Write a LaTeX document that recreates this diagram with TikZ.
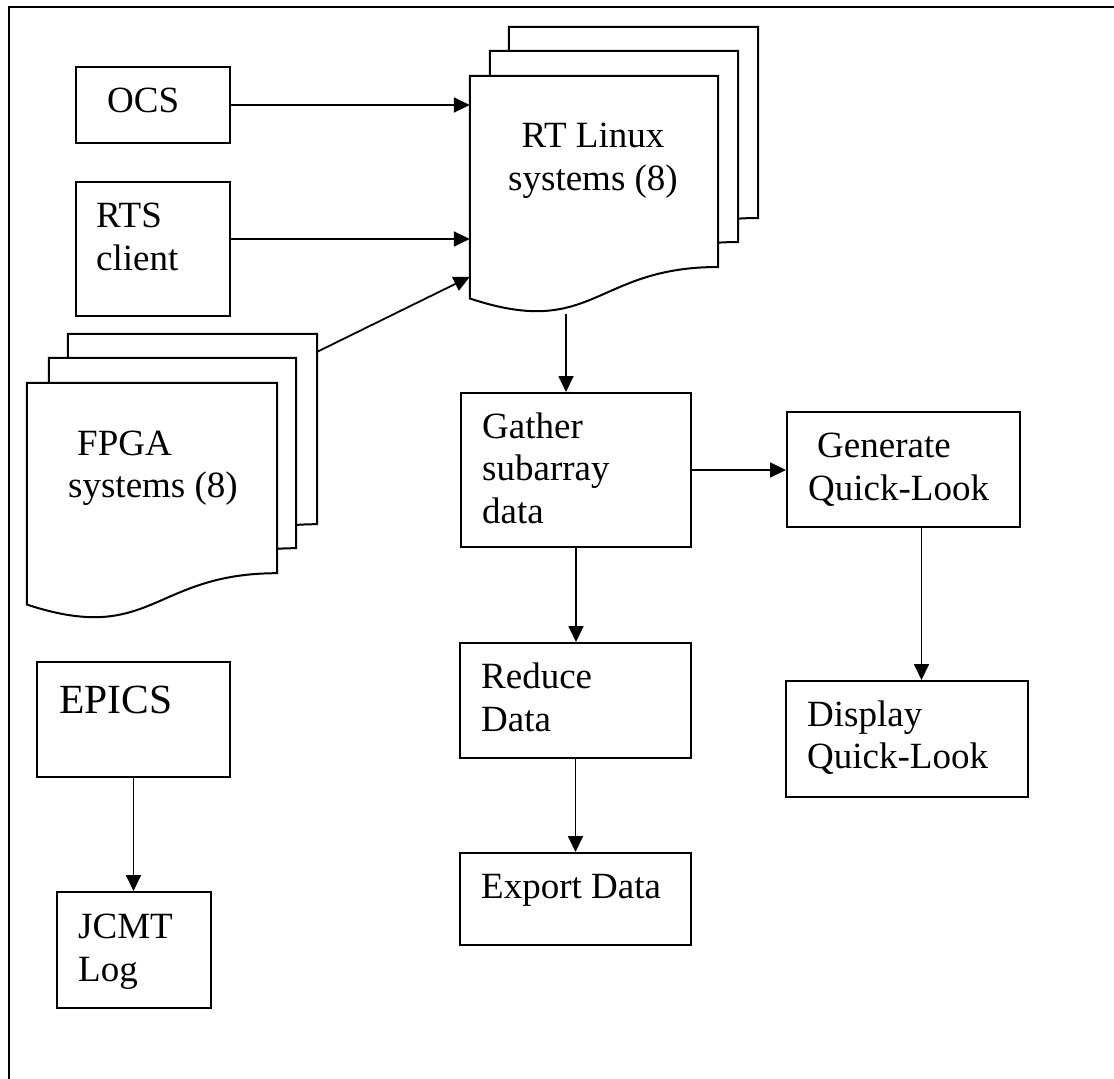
\documentclass[tikz,border=0pt]{standalone}
\usepackage{fontspec}
\setmainfont{Liberation Serif}
\usetikzlibrary{arrows.meta,fit,calc}
\tikzset{
  x=1pt, y=-1pt,
  box/.style={draw, line width=2pt, fill=white, inner sep=0pt},
  pagebox/.style={inner sep=0pt},
  lbl/.style={font=\fontsize{37pt}{42pt}\selectfont, inner sep=0pt, anchor=base west},
  biglbl/.style={font=\fontsize{41.5pt}{48pt}\selectfont, inner sep=0pt, anchor=base west},
  arr/.style={line width=1.8pt, -{Triangle[length=16pt,width=15pt]}},
  docline/.style={line width=2pt, fill=white},
}
\newcommand{\docshape}[1]{%
  \draw[docline] (#1.north west) -- (#1.north east)
    -- ($(#1.north east)!0.802!(#1.south east)$)
    .. controls ($(#1.north)!0.802!(#1.south)$) and ($(#1.north)!1.1075!(#1.south)$)
    .. ($(#1.north west)!0.934!(#1.south west)$) -- cycle;}
\begin{document}
\begin{tikzpicture}
\useasboundingbox (0,0) rectangle (1114,1079);
% outer frame
\draw[line width=2pt] (9,1100) -- (9,7) -- (1130,7);

% RT Linux stack
\node[pagebox, fit={(509,27) (758,265)}] (rt3) {};
\node[pagebox, fit={(490,51) (738,289)}] (rt2) {};
\node[pagebox, fit={(470,76) (718,314)}] (rt1) {};
\docshape{rt3}\docshape{rt2}\docshape{rt1}
\node[lbl, anchor=base] (rtA) at (593,147) {RT Linux};
\node[lbl, anchor=base] (rtB) at (593,190) {systems (8)};

% FPGA stack
\node[pagebox, fit={(68,334) (317,571)}] (fp3) {};
\node[pagebox, fit={(49,358) (296,595)}] (fp2) {};
\node[pagebox, fit={(27,383) (277,620)}] (fp1) {};
\docshape{fp3}\docshape{fp2}\docshape{fp1}
\node[lbl] (fpA) at (77,455) {FPGA};
\node[lbl] (fpB) at (68,497) {systems (8)};

% boxes
\node[box, fit={(76,67) (230,143)}] (ocs) {};
\node[lbl] (ocsT) at (107,112) {OCS};
\node[box, fit={(76,182) (230,316)}] (rts) {};
\node[lbl] (rtsA) at (96,227) {RTS};
\node[lbl] (rtsB) at (96,270) {client};

\node[box, fit={(461,393) (691,547)}] (gather) {};
\node[lbl] (gA) at (482,438) {Gather};
\node[lbl] (gB) at (482,480) {subarray};
\node[lbl] (gC) at (482,523) {data};

\node[box, fit={(787,412) (1020,527)}] (gen) {};
\node[lbl] (genA) at (817,457) {Generate};
\node[lbl] (genB) at (808,500) {Quick-Look};

\node[box, fit={(460,643) (691,758)}] (red) {};
\node[lbl] (redA) at (481,688) {Reduce};
\node[lbl] (redB) at (481,731) {Data};

\node[box, fit={(460,853) (691,945)}] (exp) {};
\node[lbl] (expA) at (481,898) {Export Data};

\node[box, fit={(786,681) (1028,797)}] (disp) {};
\node[lbl] (dispA) at (807,726) {Display};
\node[lbl] (dispB) at (807,768) {Quick-Look};

\node[box, fit={(37,662) (230,777)}] (epics) {};
\node[biglbl] (epT) at (59,713) {EPICS};

\node[box, fit={(57,892) (211,1008)}] (jcmt) {};
\node[lbl] (jA) at (78,938) {JCMT};
\node[lbl] (jB) at (78,981) {Log};

% connectors
\draw[arr] (ocs.east) -- (ocs.east -| rt1.west);
\draw[arr] ([yshift=10pt]rts.east) -- ([yshift=10pt]rts.east -| rt1.west);
\draw[arr] ([yshift=-18pt]fp3.north east) -- ([yshift=-201pt]rt1.north west);
\draw[arr] ([xshift=-10pt]gather.north |- rt1.south) -- ([xshift=-10pt]gather.north);
\draw[arr] (gather.east) -- (gather.east -| gen.west);
\draw[arr] (gather.south) -- (gather.south |- red.north);
\draw[arr] (red.south) -- (red.south |- exp.north);
\draw[arr] ([xshift=18pt]gen.south) -- ([xshift=18pt]gen.south |- disp.north);
\draw[arr] (epics.south) -- (epics.south |- jcmt.north);
\end{tikzpicture}
\end{document}
